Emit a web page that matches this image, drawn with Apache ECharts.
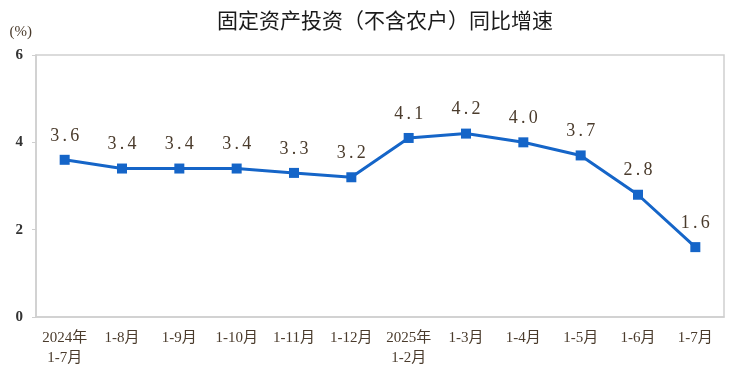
<!DOCTYPE html>
<html><head><meta charset="utf-8">
<script src="https://cdn.jsdelivr.net/npm/echarts@6/dist/echarts.min.js"></script>
<style>html,body{margin:0;padding:0;background:#fff}#c{width:731px;height:373px}</style>
</head><body><div id="c"></div>
<script>
const categories = ['2024年\n1-7月','1-8月','1-9月','1-10月','1-11月','1-12月','2025年\n1-2月','1-3月','1-4月','1-5月','1-6月','1-7月'];
const values = [3.6,3.4,3.4,3.4,3.3,3.2,4.1,4.2,4.0,3.7,2.8,1.6];
const yTicks = [0,2,4,6];
const serif = '"Liberation Serif","DejaVu Serif","Noto Sans CJK SC",serif';
const chart = echarts.init(document.getElementById('c'));
chart.setOption({
  animation:false,
  title:{text:'固定资产投资（不含农户）同比增速',left:380,textAlign:'center',top:5,
    textStyle:{fontSize:21,fontWeight:'normal',color:'#1a1a1a',fontFamily:'"Noto Sans CJK SC",sans-serif'}},
  grid:{left:36,right:7,top:55,bottom:56,show:true,borderColor:'#cfcfcf',borderWidth:1.5},
  xAxis:{type:'category',data:categories,boundaryGap:true,
    axisLine:{lineStyle:{color:'#cfcfcf',width:1.5}},
    axisTick:{inside:true,length:5,lineStyle:{color:'#cfcfcf',width:1.5}},
    axisLabel:{interval:0,fontSize:15,color:'#4a3b2c',fontFamily:serif,margin:11,lineHeight:20}},
  yAxis:{type:'value',min:0,max:6,interval:2,name:'(%)',nameLocation:'end',nameGap:15,
    nameTextStyle:{fontSize:15,color:'#4a3b2c',fontFamily:serif,align:'right',padding:[0,4,0,0]},
    axisLine:{show:true,lineStyle:{color:'#cfcfcf',width:1.5}},
    axisTick:{show:true,length:4,lineStyle:{color:'#cfcfcf'}},
    splitLine:{show:false},
    axisLabel:{fontSize:15,fontWeight:'bold',color:'#333',fontFamily:serif,margin:13,
      formatter:v=>yTicks.includes(v)?String(v):''}},
  series:[{type:'line',data:values,symbol:'rect',symbolSize:10,
    lineStyle:{color:'#1565c8',width:3},itemStyle:{color:'#1565c8'},
    label:{show:true,position:'top',distance:10,fontSize:18,color:'#4a3b2c',fontFamily:serif,
      formatter:p=>{const s=p.value.toFixed(1).split('.');return '{d|'+s[0]+'}{p|.}{d|'+s[1]+'}';},
      rich:{d:{fontSize:18,fontFamily:serif,color:'#4a3b2c'},
            p:{fontSize:18,fontFamily:serif,color:'#4a3b2c',width:11,align:'left'}}}}]
});
</script></body></html>
